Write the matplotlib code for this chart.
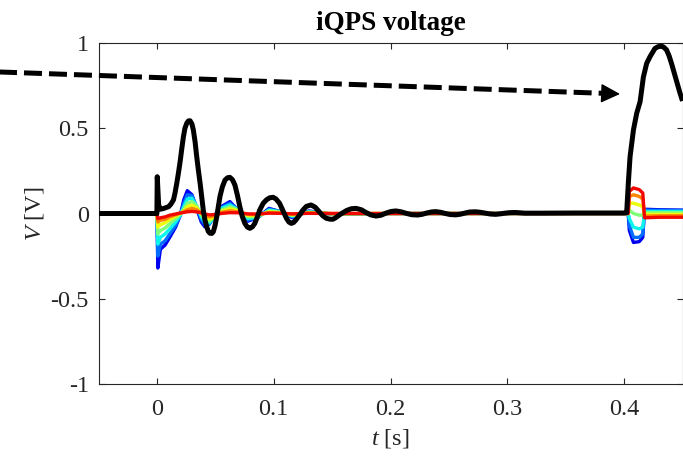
import matplotlib
matplotlib.use("Agg")
import matplotlib.pyplot as plt

plt.rcParams['font.family'] = ['Liberation Serif', 'DejaVu Serif']
plt.rcParams['mathtext.fontset'] = 'custom'
plt.rcParams['mathtext.rm'] = 'Liberation Serif'
plt.rcParams['mathtext.it'] = 'Liberation Serif:italic'
plt.rcParams['axes.unicode_minus'] = False

# ---- total iQPS voltage (black) ----
t_total = [-0.05, 0.0, 0.0003, 0.0015, 0.003, 0.006, 0.010, 0.012, 0.0142, 0.0155,
           0.017, 0.0185, 0.020, 0.0213, 0.0227, 0.024, 0.0256, 0.027, 0.0284, 0.030,
           0.0312, 0.0327, 0.0341, 0.0355, 0.037, 0.0384, 0.0397, 0.041, 0.0426, 0.044,
           0.0455, 0.047, 0.0483, 0.0498, 0.0512, 0.0526, 0.054, 0.056, 0.0583, 0.0605,
           0.0625, 0.0647, 0.0668, 0.069, 0.071, 0.073, 0.0753, 0.0775, 0.0796, 0.0818,
           0.0838, 0.086, 0.088, 0.091, 0.0938, 0.0965, 0.0995, 0.102, 0.105, 0.108,
           0.1109, 0.113, 0.115, 0.117, 0.119, 0.122, 0.125, 0.128, 0.132, 0.1355,
           0.139, 0.142, 0.145, 0.148, 0.1506, 0.153, 0.157, 0.1625, 0.1665, 0.1706,
           0.175, 0.179, 0.183, 0.1876, 0.192, 0.196, 0.2005, 0.2047, 0.209, 0.214,
           0.218, 0.223, 0.227, 0.231, 0.235, 0.2388, 0.243, 0.247, 0.251, 0.2559,
           0.260, 0.264, 0.268, 0.2729, 0.277, 0.281, 0.2855, 0.290, 0.294, 0.298,
           0.302, 0.307, 0.315, 0.330, 0.360, 0.400, 0.4022, 0.4037, 0.4051, 0.408,
           0.4108, 0.4137, 0.4165, 0.4193, 0.4222, 0.4264, 0.429, 0.432, 0.434, 0.4363,
           0.4385, 0.4406, 0.4427, 0.4448, 0.4477, 0.450]
v_total = [0, 0, 0.216, 0.05, 0.025, 0.03, 0.04, 0.055, 0.08, 0.12,
           0.177, 0.24, 0.31, 0.38, 0.45, 0.50, 0.53, 0.543, 0.544, 0.525,
           0.49, 0.42, 0.333, 0.255, 0.177, 0.095, 0.02, -0.035, -0.077, -0.105,
           -0.116, -0.117, -0.107, -0.07, -0.02, 0.04, 0.10, 0.155, 0.196, 0.21,
           0.212, 0.198, 0.167, 0.105, 0.04, -0.015, -0.058, -0.08, -0.087, -0.078,
           -0.058, -0.02, 0.02, 0.06, 0.08, 0.092, 0.095, 0.085, 0.06, 0.015,
           -0.028, -0.05, -0.058, -0.053, -0.038, -0.01, 0.02, 0.042, 0.05, 0.037,
           0.01, -0.013, -0.028, -0.033, -0.034, -0.025, -0.005, 0.018, 0.028, 0.03,
           0.022, 0.006, -0.008, -0.015, -0.01, 0.002, 0.012, 0.015, 0.01, 0.0,
           -0.007, -0.009, -0.005, 0.003, 0.009, 0.011, 0.007, 0.0, -0.006, -0.008,
           -0.004, 0.003, 0.009, 0.01, 0.007, 0.002, -0.003, -0.005, -0.002, 0.002,
           0.005, 0.006, 0.002, 0.002, 0.003, 0.003, 0.005, 0.187, 0.333, 0.49,
           0.588, 0.656, 0.80, 0.88, 0.92, 0.968, 0.978, 0.982, 0.975, 0.96,
           0.925, 0.88, 0.83, 0.78, 0.71, 0.66]

# ---- individual channel voltages (blue -> red) ----
t_chan = [-0.05, 0.0, 0.0008, 0.003, 0.007, 0.011, 0.016, 0.020, 0.023, 0.026,
          0.030, 0.034, 0.038, 0.041, 0.045, 0.050, 0.055, 0.0625, 0.070, 0.078,
          0.086, 0.096, 0.106, 0.116, 0.130, 0.150, 0.200, 0.300, 0.4035, 0.4045,
          0.408, 0.413, 0.416, 0.4175, 0.430, 0.450]
v_chan_1 = [0, 0, -0.32, -0.21, -0.185, -0.14, -0.08, -0.01, 0.08, 0.134,
            0.11, 0.03, -0.05, -0.078, -0.06, -0.005, 0.04, 0.07, 0.015, -0.045,
            -0.025, 0.03, 0.01, -0.025, 0.015, -0.005, 0.0, 0.0, 0.0, -0.10,
            -0.17, -0.165, -0.14, 0.025, 0.022, 0.02]
v_chan_2 = [0, 0, -0.25, -0.18, -0.16, -0.12, -0.07, -0.01, 0.06, 0.11,
            0.105, 0.04, -0.035, -0.065, -0.062, -0.01, 0.035, 0.06, 0.02, -0.038,
            -0.025, 0.025, 0.012, -0.02, 0.012, -0.004, 0, 0, 0, -0.07,
            -0.14, -0.14, -0.12, 0.02, 0.018, 0.017]
v_chan_3 = [0, 0, -0.18, -0.14, -0.12, -0.09, -0.05, -0.01, 0.04, 0.085,
            0.09, 0.045, -0.02, -0.05, -0.055, -0.015, 0.03, 0.05, 0.02, -0.03,
            -0.022, 0.02, 0.01, -0.015, 0.01, -0.003, 0, 0, 0, -0.03,
            -0.08, -0.09, -0.08, 0.012, 0.012, 0.012]
v_chan_4 = [0, 0, -0.12, -0.10, -0.085, -0.06, -0.03, -0.005, 0.025, 0.06,
            0.07, 0.045, -0.008, -0.035, -0.045, -0.018, 0.02, 0.04, 0.02, -0.02,
            -0.018, 0.015, 0.008, -0.012, 0.008, -0.002, 0, 0, 0, 0.02,
            0.0, -0.01, -0.01, 0.005, 0.005, 0.005]
v_chan_5 = [0, 0, -0.08, -0.065, -0.055, -0.035, -0.015, 0.0, 0.015, 0.04,
            0.05, 0.035, 0.0, -0.022, -0.032, -0.018, 0.012, 0.028, 0.015, -0.012,
            -0.012, 0.01, 0.005, -0.008, 0.005, -0.001, 0, 0, 0, 0.06,
            0.06, 0.05, 0.04, -0.005, -0.005, -0.005]
v_chan_6 = [0, 0, -0.05, -0.04, -0.035, -0.02, -0.008, 0.002, 0.01, 0.022,
            0.03, 0.022, 0.003, -0.012, -0.02, -0.012, 0.006, 0.016, 0.01, -0.006,
            -0.007, 0.005, 0.003, -0.004, 0.003, 0, 0, 0, 0, 0.10,
            0.11, 0.10, 0.085, -0.015, -0.013, -0.013]
v_chan_7 = [0, 0, -0.03, -0.025, -0.02, -0.01, -0.003, 0.003, 0.006, 0.01,
            0.012, 0.01, 0.004, -0.003, -0.008, -0.006, 0.0, 0.005, 0.004, -0.002,
            -0.003, 0.002, 0.001, -0.002, 0.001, 0, 0, 0, 0, 0.13,
            0.15, 0.14, 0.12, -0.025, -0.022, -0.022]
channels = [v_chan_1, v_chan_2, v_chan_3, v_chan_4, v_chan_5, v_chan_6, v_chan_7]

# ---- axes setup ----
x_ticks = [0, 0.1, 0.2, 0.3, 0.4]
x_tick_labels = ['0', '0.1', '0.2', '0.3', '0.4']
y_ticks = [-1, -0.5, 0, 0.5, 1]
y_tick_labels = ['-1', '-0.5', '0', '0.5', '1']

# trend arrow (data coordinates, extends past the axes on the left)
arrow_start = (-0.143, 0.832)
arrow_head_base = (0.382, 0.705)
arrow_tip = (0.3965, 0.701)

W, H = 683, 457
fig = plt.figure(figsize=(W / 100, H / 100), dpi=100)
ax = fig.add_axes([98.5 / W, (H - 384) / H, 584 / W, 341 / H])

cmap = matplotlib.colormaps['jet']
n = len(channels)
for i, v in enumerate(channels):
    ax.plot(t_chan, v, color=cmap(0.1 + 0.8 * i / (n - 1)), lw=2.4,
            solid_joinstyle='round')

ax.plot(t_total, v_total, color='k', lw=3.6, solid_joinstyle='round',
        solid_capstyle='butt', zorder=5)

ax.plot([arrow_start[0], arrow_head_base[0]], [arrow_start[1], arrow_head_base[1]],
        color='k', lw=3.6, dashes=(3.6, 1.4), clip_on=False, zorder=6,
        dash_capstyle='butt')
ax.annotate('', xy=arrow_tip, xytext=arrow_head_base, annotation_clip=False,
            arrowprops=dict(arrowstyle='-|>,head_length=0.6,head_width=0.3',
                            mutation_scale=20, color='k', lw=1,
                            shrinkA=0, shrinkB=0), zorder=6)

ax.set_xlim(-0.05, 0.45)
ax.set_ylim(-1, 1)
ax.set_xticks(x_ticks)
ax.set_xticklabels(x_tick_labels)
ax.set_yticks(y_ticks)
ax.set_yticklabels(y_tick_labels)

axis_color = '#262626'
for s in ax.spines.values():
    s.set_linewidth(0.8)
    s.set_color(axis_color)
ax.tick_params(direction='in', length=4, width=0.8, top=True, right=True,
               labelsize=17.5, colors=axis_color)
ax.tick_params(axis='x', pad=11)
ax.tick_params(axis='y', pad=7)

ax.set_title('iQPS voltage', fontsize=19.5, fontweight='bold', pad=9)
ax.set_xlabel('$t$ [s]', fontsize=17.5, labelpad=5, color=axis_color)
ax.set_ylabel('$V$ [V]', fontsize=17.5, labelpad=3, color=axis_color)

fig.savefig('out.png', dpi=100)
